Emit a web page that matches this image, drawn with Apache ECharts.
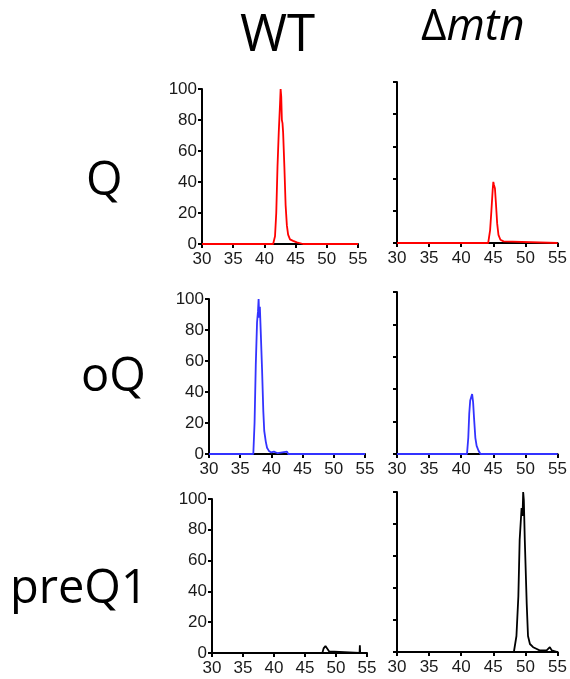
<!DOCTYPE html>
<html>
<head>
<meta charset="UTF-8">
<title>elution profiles</title>
<script src="https://cdn.jsdelivr.net/npm/echarts@6/dist/echarts.min.js"></script>
<style type="text/css">
	* {margin: 0; padding: 0;}
	body {background: #fff;}
</style>
</head>
<body>
<div id="chart" style="width:570px;height:679px"></div>
<script type="text/javascript">
// x = elution time, y = relative intensity (%)
var xTicks = [30, 35, 40, 45, 50, 55];
var yTicks = [0, 20, 40, 60, 80, 100];

var wtQ = [[30,0],[41.4,0],[41.7,5],[41.9,20],[42.1,50],[42.3,72],[42.5,90],[42.6,100],[42.7,95],[42.8,80],[42.9,78],[43.0,72],[43.2,50],[43.4,25],[43.6,12],[43.8,6],[44.1,3],[44.6,2],[45.2,1],[46.2,0],[55,0]];
var mtnQ = [[30,0],[44.2,0],[44.5,8],[44.7,20],[44.9,33],[45.0,38],[45.1,36],[45.25,34],[45.4,25],[45.6,12],[45.8,5],[46.1,2],[46.6,1],[46.9,0],[55,0]];
var wtOQ = [[30,0],[37.1,0],[37.3,20],[37.5,58],[37.7,85],[37.85,92],[37.95,100],[38.05,88],[38.15,95],[38.3,78],[38.5,55],[38.7,28],[38.85,15],[39.1,8],[39.3,4],[39.6,2],[40.0,1],[40.4,1.5],[41.0,0.5],[42.5,1.5],[42.7,0],[55,0]];
var mtnOQ = [[30,0],[40.9,0],[41.1,10],[41.25,25],[41.4,33],[41.55,34],[41.7,37],[41.85,32],[42.0,22],[42.2,10],[42.4,5],[42.7,2],[43.0,0],[55,0]];
var wtPreQ1 = [[30,0],[47.8,0],[48.0,3],[48.3,4.5],[48.6,4],[48.9,1],[49.2,0],[53.8,0],[53.85,5],[53.9,0],[55,0]];
var mtnPreQ1 = [[30,0],[48.2,0],[48.6,10],[48.9,35],[49.1,70],[49.4,90],[49.55,85],[49.65,100],[49.75,95],[49.9,70],[50.2,30],[50.4,10],[50.7,5],[51.2,3],[51.7,2],[52.2,1],[53.3,1],[53.8,3],[54.1,1],[54.3,0],[55,0]];

var panelData = [wtQ, mtnQ, wtOQ, mtnOQ, wtPreQ1, mtnPreQ1];
var panelColors = ['#ff0000', '#ff0000', '#3333ff', '#3333ff', '#000000', '#000000'];
var rowLabels = ['Q', 'oQ', 'preQ1'];

// grid boxes (left, top, width, height)
var boxes = [
	[202, 89, 156, 155],
	[397, 82, 161, 161],
	[209, 299, 156, 155],
	[397, 292, 161, 162],
	[212, 499, 155, 154],
	[397, 492, 161, 160]
];

var chart = echarts.init(document.getElementById('chart'));

var grids = [], xAxes = [], yAxes = [], series = [];
for (var i = 0; i < 6; i++) {
	var b = boxes[i];
	grids.push({left: b[0], top: b[1], width: b[2], height: b[3]});
	xAxes.push({
		type: 'value', gridIndex: i, min: xTicks[0], max: xTicks[xTicks.length-1], interval: 5,
		axisLine: {lineStyle: {color: '#000', width: 2}},
		axisTick: {inside: false, length: 4, lineStyle: {color: '#000', width: 2}},
		axisLabel: {margin: 7, color: '#1a1a1a', fontSize: 17, fontFamily: 'Liberation Sans'},
		splitLine: {show: false}
	});
	yAxes.push({
		type: 'value', gridIndex: i, position: 'left', min: yTicks[0], max: yTicks[yTicks.length-1], interval: 20,
		axisLine: {show: true, lineStyle: {color: '#000', width: 2}},
		axisTick: {show: true, inside: false, length: 4, lineStyle: {color: '#000', width: 2}},
		axisLabel: {show: i % 2 == 0, margin: 5, color: '#1a1a1a', fontSize: 17, fontFamily: 'Liberation Sans'},
		splitLine: {show: false}
	});
	series.push({
		type: 'line', xAxisIndex: i, yAxisIndex: i, data: panelData[i],
		showSymbol: false, clip: false, animation: false,
		lineStyle: {color: panelColors[i], width: 1.8}
	});
}

var graphics = [
	{type: 'text', left: 240, top: 11, style: {text: 'WT', font: '51px "Open Sans"', fill: '#000'}},
	{type: 'text', left: 421, top: 5, style: {
		text: '{a|Δ}{b|mtn}',
		rich: {
			a: {fontFamily: 'Open Sans', fontSize: 44, fill: '#000'},
			b: {fontFamily: 'Open Sans', fontSize: 44, fontStyle: 'italic', fill: '#000'}
		}
	}},
	{type: 'text', left: 86, top: 158, style: {text: rowLabels[0], font: '47px "Open Sans"', fill: '#000'}},
	{type: 'text', left: 81, top: 354, style: {text: rowLabels[1], font: '47px "Open Sans"', fill: '#000'}},
	{type: 'text', left: 10, top: 566, style: {text: rowLabels[2], font: '47px "Open Sans"', fill: '#000'}}
];

chart.setOption({
	animation: false,
	grid: grids,
	xAxis: xAxes,
	yAxis: yAxes,
	series: series,
	graphic: graphics
});
</script>
</body>
</html>
